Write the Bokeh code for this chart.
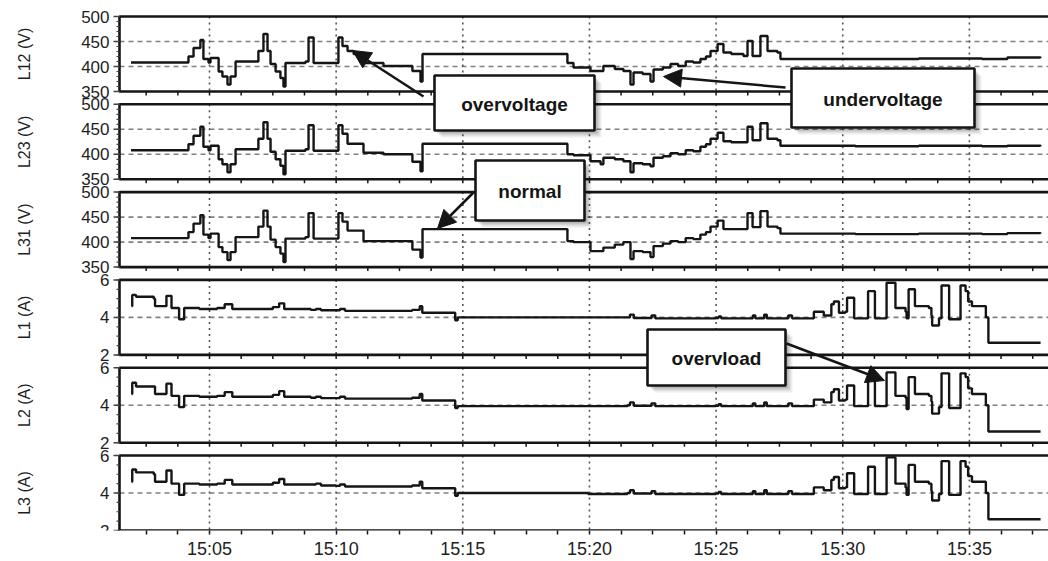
from math import pi
from bokeh.plotting import figure
from bokeh.models import Range1d, FixedTicker, Arrow, NormalHead
from bokeh.core.properties import value
from bokeh.embed import file_html
from bokeh.resources import INLINE

# ---------------- data (time in minutes after 15:00) ----------------
t_v = [1.9, 4.13, 4.17, 4.37, 4.64, 4.76, 4.96, 5.04, 5.24, 5.36, 5.51, 5.71, 5.83, 6.03,
       6.89, 6.93, 7.13, 7.29, 7.41, 7.61, 7.80, 7.92, 8.00, 8.79, 8.91, 9.07, 9.11, 9.97,
       10.09, 10.25, 10.45, 10.69, 11.08, 11.87, 12.82, 13.01, 13.33, 13.41,
       18.98, 19.13, 19.37, 19.92, 20.04, 20.44, 20.55, 21.0, 21.34, 21.62, 21.74, 22.1,
       22.41, 22.53, 22.9, 23.2, 23.5, 23.8, 24.1, 24.38, 24.6, 24.78, 25.06, 25.29, 25.6,
       26.08, 26.24, 26.44, 26.75, 27.03, 27.42, 27.54, 30.5, 33.0, 35.5, 36.5, 37.81]
v_l12 = [408, 408, 420, 437, 453, 415, 408, 417, 417, 390, 380, 364, 380, 410,
         410, 431, 465, 431, 405, 390, 377, 360, 407, 410, 458, 458, 407, 407,
         458, 441, 431, 425, 407, 401, 401, 391, 370, 425,
         425, 407, 398, 398, 391, 391, 401, 395, 391, 364, 388, 385,
         370, 394, 398, 405, 401, 410, 408, 415, 420, 431, 445, 428, 425,
         421, 451, 421, 461, 431, 428, 415, 415, 416, 415, 418, 417]
v_l23 = [408, 408, 420, 437, 455, 415, 408, 417, 417, 390, 380, 364, 380, 410,
         410, 431, 464, 431, 405, 390, 377, 360, 407, 410, 458, 458, 407, 407,
         458, 441, 421, 421, 403, 400, 400, 385, 366, 421,
         421, 400, 398, 398, 386, 380, 393, 390, 386, 364, 382, 380,
         376, 393, 396, 402, 400, 408, 406, 415, 420, 431, 443, 426, 424,
         424, 455, 428, 462, 431, 428, 417, 416, 417, 416, 417, 416]
v_l31 = [408, 408, 420, 437, 454, 415, 408, 417, 417, 390, 380, 364, 380, 410,
         410, 431, 463, 431, 405, 390, 377, 360, 407, 410, 458, 458, 407, 407,
         458, 441, 423, 423, 402, 402, 402, 385, 369, 426,
         426, 402, 400, 400, 382, 382, 389, 395, 400, 366, 382, 380,
         370, 392, 397, 402, 400, 408, 406, 415, 420, 431, 443, 426, 426,
         426, 458, 430, 462, 431, 428, 417, 416, 417, 416, 418, 417]

t_i = [1.92, 1.95, 2.1, 2.8, 2.85, 3.2, 3.3, 3.5, 3.8, 4.0, 4.6, 5.3, 5.6, 5.9, 7.2, 7.5,
       7.75, 7.95, 9.0, 9.2, 9.4, 10.0, 10.15, 10.35, 13.0, 13.3, 13.4, 14.65, 14.7, 14.8,
       19.95, 21.5, 21.6, 21.75, 22.35, 22.45, 22.6, 25.0, 25.1, 25.2, 26.35, 26.45, 26.55,
       26.8, 26.9, 27.0, 27.8, 27.85, 28.0, 28.8, 28.86, 29.19, 29.25, 29.5, 29.55, 29.65,
       29.78, 29.85, 30.1, 30.17, 30.37, 30.45, 30.97, 31.0, 31.23, 31.27, 31.69, 31.73,
       32.02, 32.08, 32.48, 32.52, 32.6, 32.8, 32.85, 33.4, 33.5, 33.53, 33.73, 33.8, 33.9,
       34.12, 34.2, 34.6, 34.65, 34.85, 34.95, 35.1, 35.55, 35.65, 35.75, 36.5, 37.81]
i_l1 = [4.6, 5.2, 5.1, 5.0, 4.6, 4.6, 5.15, 4.5, 3.9, 4.5, 4.45, 4.5, 4.7, 4.45, 4.45, 4.55,
        4.75, 4.45, 4.4, 4.45, 4.38, 4.38, 4.45, 4.35, 4.4, 4.6, 4.25, 4.25, 3.85, 4.0,
        4.0, 4.0, 4.15, 3.97, 3.97, 4.1, 3.95, 3.97, 4.05, 3.95, 3.95, 4.1, 3.95,
        3.95, 4.15, 3.95, 3.95, 4.1, 3.95, 3.95, 4.3, 4.3, 4.1, 4.1, 4.7, 4.85,
        4.85, 4.25, 4.3, 5.05, 5.05, 3.95, 3.95, 5.4, 5.4, 3.95, 3.95, 5.85,
        5.85, 4.5, 4.3, 3.95, 5.5, 5.5, 4.6, 4.5, 4.1, 3.57, 3.57, 3.95, 5.7,
        5.7, 3.9, 3.9, 5.7, 5.4, 4.85, 4.6, 4.6, 4.0, 2.65, 2.65, 2.65]
i_l2 = [4.6, 5.2, 5.0, 5.0, 4.6, 4.6, 5.15, 4.5, 3.9, 4.5, 4.45, 4.5, 4.7, 4.45, 4.45, 4.55,
        4.75, 4.45, 4.4, 4.45, 4.38, 4.38, 4.45, 4.35, 4.4, 4.6, 4.25, 4.25, 3.85, 3.95,
        3.95, 4.0, 4.15, 3.97, 3.97, 4.1, 3.95, 3.97, 4.05, 3.95, 3.95, 4.1, 3.95,
        3.95, 4.15, 3.95, 3.95, 4.1, 3.95, 3.95, 4.3, 4.3, 4.15, 4.15, 4.7, 4.85,
        4.85, 4.25, 4.3, 5.05, 5.05, 3.95, 3.95, 5.4, 5.4, 3.95, 3.95, 5.75,
        5.75, 4.5, 4.4, 3.8, 5.5, 5.5, 4.6, 4.5, 4.2, 3.55, 3.55, 3.9, 5.7,
        5.7, 3.85, 3.85, 5.7, 5.5, 4.9, 4.6, 4.6, 4.0, 2.6, 2.6, 2.6]
i_l3 = [4.6, 5.25, 5.1, 5.0, 4.6, 4.6, 5.2, 4.5, 3.9, 4.5, 4.45, 4.5, 4.7, 4.45, 4.45, 4.55,
        4.75, 4.45, 4.45, 4.5, 4.4, 4.38, 4.45, 4.35, 4.4, 4.6, 4.25, 4.25, 3.85, 4.0,
        3.95, 4.0, 4.15, 3.97, 3.97, 4.1, 3.95, 3.97, 4.05, 3.95, 3.95, 4.1, 3.95,
        3.95, 4.15, 3.95, 3.95, 4.1, 3.95, 3.95, 4.3, 4.3, 4.15, 4.15, 4.7, 4.85,
        4.85, 4.25, 4.3, 5.05, 5.05, 3.95, 3.95, 5.4, 5.4, 3.95, 3.95, 5.9,
        5.9, 4.5, 4.3, 3.9, 5.5, 5.5, 4.6, 4.5, 4.1, 3.6, 3.6, 3.95, 5.7,
        5.7, 3.9, 3.9, 5.7, 5.4, 4.9, 4.6, 4.6, 4.0, 2.6, 2.6, 2.6]

x_tick_minutes = [5, 10, 15, 20, 25, 30, 35]
x_tick_labels = ["15:05", "15:10", "15:15", "15:20", "15:25", "15:30", "15:35"]
v_ticks = [350, 400, 450, 500]
v_tick_labels = ["350", "400", "450", "500"]
i_ticks = [2, 4, 6]
i_tick_labels = ["2", "4", "6"]
panel_titles = ["L12 (V)", "L23 (V)", "L31 (V)", "L1 (A)", "L2 (A)", "L3 (A)"]
note_texts = ["overvoltage", "undervoltage", "normal", "overvload"]

# ---------------- layout (pixels) ----------------
W, H = 1048, 561
FRAME_BOTTOM = 530
PX_AT_5, PX_PER_MIN = 209.0, 25.33
PANEL_LEFT, PANEL_RIGHT = 119, 1053
PANEL_TOP0, PANEL_STEP, PANEL_H = 16.0, 87.8, 75.0
FONT = value("Liberation Sans")
INK = "#151515"
LABEL_INK = "#1e1e1e"

t_left = 5 - PX_AT_5 / PX_PER_MIN
t_right = 5 + (W - PX_AT_5) / PX_PER_MIN

p = figure(width=W, height=H, x_range=Range1d(t_left, t_right), y_range=Range1d(FRAME_BOTTOM, 0),
           output_backend="svg", toolbar_location=None, y_axis_location=None,
           min_border_left=0, min_border_right=0, min_border_top=0, min_border_bottom=H - FRAME_BOTTOM,
           outline_line_color=None, background_fill_color="white", border_fill_color="white")
p.xgrid.visible = False
p.ygrid.visible = False
p.extra_x_ranges = {"px": Range1d(0, W)}

minor_x = [2.5 + 1.25 * k for k in range(29) if (2.5 + 1.25 * k) % 5 != 0]
ax = p.xaxis[0]
ax.ticker = FixedTicker(ticks=x_tick_minutes, minor_ticks=minor_x)
ax.major_label_overrides = {t: s for t, s in zip(x_tick_minutes, x_tick_labels)}
ax.axis_line_color = None
ax.major_tick_out, ax.major_tick_in = 4, 0
ax.minor_tick_out, ax.minor_tick_in = 4, 0
ax.major_tick_line_color = INK
ax.minor_tick_line_color = INK
ax.major_tick_line_width = 1.5
ax.minor_tick_line_width = 1.5
ax.major_label_text_font = "Liberation Sans"
ax.major_label_text_font_size = "18px"
ax.major_label_text_color = LABEL_INK
ax.major_label_standoff = 4

panels = [
    ("L12", t_v, v_l12, 350, 500, v_ticks, v_tick_labels, [400, 450], 10),
    ("L23", t_v, v_l23, 350, 500, v_ticks, v_tick_labels, [400, 450], 10),
    ("L31", t_v, v_l31, 350, 500, v_ticks, v_tick_labels, [400, 450], 10),
    ("L1", t_i, i_l1, 2, 6, i_ticks, i_tick_labels, [4], 0.5),
    ("L2", t_i, i_l2, 2, 6, i_ticks, i_tick_labels, [4], 0.5),
    ("L3", t_i, i_l3, 2, 6, i_ticks, i_tick_labels, [4], 0.5),
]

for k, (name, tx, vals, lo, hi, ticks, tlabels, gridvals, mstep) in enumerate(panels):
    top = PANEL_TOP0 + PANEL_STEP * k
    bot = top + PANEL_H
    scale = (hi - lo) / (bot - top)
    p.extra_y_ranges[name] = Range1d(lo - (FRAME_BOTTOM - bot) * scale, hi + top * scale)

    # dashed horizontal grid
    p.segment(x0=[PANEL_LEFT] * len(gridvals), x1=[PANEL_RIGHT] * len(gridvals), y0=gridvals, y1=gridvals,
              x_range_name="px", y_range_name=name, line_color="#808080", line_width=1.6, line_dash="5 4")
    # dotted vertical grid
    p.segment(x0=x_tick_minutes, x1=x_tick_minutes, y0=[top] * 7, y1=[bot] * 7,
              line_color="#555555", line_width=1.6, line_dash="2 4")
    # data trace (recorder steps)
    p.step(tx, vals, mode="after", y_range_name=name, line_color=INK, line_width=2.4)
    # frame
    p.quad(left=[PANEL_LEFT], right=[PANEL_RIGHT], top=[top], bottom=[bot], x_range_name="px",
           fill_color=None, line_color=INK, line_width=2.6)
    # y ticks
    nminor = int(round((hi - lo) / mstep))
    minor_y = [lo + mstep * j for j in range(nminor + 1)]
    p.segment(x0=[PANEL_LEFT - 3] * len(minor_y), x1=[PANEL_LEFT] * len(minor_y), y0=minor_y, y1=minor_y,
              x_range_name="px", y_range_name=name, line_color="#444444", line_width=1.2)
    p.segment(x0=[PANEL_LEFT - 6] * len(ticks), x1=[PANEL_LEFT] * len(ticks), y0=ticks, y1=ticks,
              x_range_name="px", y_range_name=name, line_color="#444444", line_width=1.5)
    p.text(x=[PANEL_LEFT - 10] * len(ticks), y=ticks, text=tlabels, x_range_name="px", y_range_name=name,
           text_align="right", text_baseline="middle", text_font=FONT, text_font_size="17px",
           text_color=LABEL_INK)
    # x ticks on the bottom edge of upper panels
    if k < 5:
        allx = x_tick_minutes + minor_x
        p.segment(x0=allx, x1=allx, y0=[bot] * len(allx), y1=[bot + 4] * len(allx),
                  line_color=INK, line_width=1.5)
    # panel title
    p.text(x=[24], y=[(top + bot) / 2], text=[panel_titles[k]], x_range_name="px", angle=pi / 2,
           text_align="center", text_baseline="middle", text_font=FONT, text_font_size="16px",
           text_color=LABEL_INK)

# ---------------- annotation boxes and arrows (pixel positions) ----------------
boxes = [(434, 594, 75, 130), (791, 974, 68, 127), (475, 584, 160, 220), (647, 785, 329, 385)]
arrows = [((423, 96), (352, 50)), ((785, 87), (663, 76)), ((473, 192), (437, 228)), ((786, 343), (884, 380))]

for off, alpha in [(7, 0.07), (5, 0.10), (3, 0.14)]:
    p.quad(left=[b[0] + off for b in boxes], right=[b[1] + off for b in boxes],
           top=[b[2] + off for b in boxes], bottom=[b[3] + off for b in boxes],
           x_range_name="px", fill_color="black", fill_alpha=alpha, line_color=None)
p.quad(left=[b[0] for b in boxes], right=[b[1] for b in boxes], top=[b[2] for b in boxes],
       bottom=[b[3] for b in boxes], x_range_name="px", fill_color="white", line_color=INK, line_width=2.6)
p.text(x=[(b[0] + b[1]) / 2 for b in boxes], y=[(b[2] + b[3]) / 2 + 1 for b in boxes], text=note_texts,
       x_range_name="px", text_align="center", text_baseline="middle", text_font=FONT,
       text_font_style="bold", text_font_size="19px", text_color=INK)

for (xs, ys), (xe, ye) in arrows:
    p.add_layout(Arrow(x_start=xs, y_start=ys, x_end=xe, y_end=ye, x_range_name="px",
                       line_color=INK, line_width=2.5,
                       end=NormalHead(size=18, fill_color=INK, line_color=INK)))

open("out.html", "w").write(file_html(p, INLINE))
